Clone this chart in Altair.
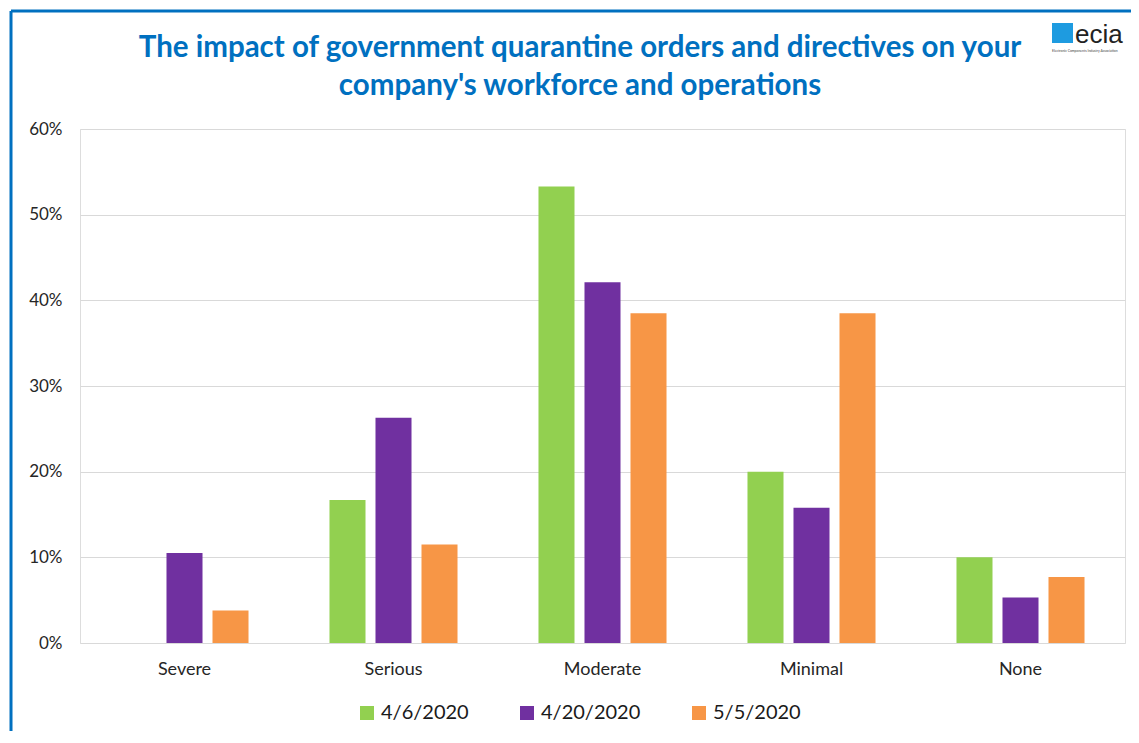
import altair as alt
import pandas as pd

categories = ["Severe", "Serious", "Moderate", "Minimal", "None"]
series = ["4/6/2020", "4/20/2020", "5/5/2020"]
v_0406 = [0.0, 0.167, 0.533, 0.200, 0.100]
v_0420 = [0.105, 0.263, 0.421, 0.158, 0.053]
v_0505 = [0.038, 0.115, 0.385, 0.385, 0.077]
colors = ["#92D050", "#7030A0", "#F79646"]
title_lines = ["The impact of government quarantine orders and directives on your",
               "company's workforce and operations"]

rows = []
for s, vals in zip(series, [v_0406, v_0420, v_0505]):
    for c, v in zip(categories, vals):
        rows.append({"cat": c, "series": s, "value": v})
df = pd.DataFrame(rows)

FONT = "Lato"
BLUE = "#0070C0"

bars = alt.Chart(df).mark_bar().encode(
    x=alt.X("cat:N", sort=categories, title=None,
            scale=alt.Scale(paddingInner=0, paddingOuter=0),
            axis=alt.Axis(labelAngle=0, ticks=False, domain=False, labelPadding=17,
                          labelFontSize=18, labelColor="#262626", labelFont=FONT)),
    xOffset=alt.XOffset("series:N", sort=series,
                        scale=alt.Scale(paddingInner=0.217, paddingOuter=0.88)),
    y=alt.Y("value:Q", title=None,
            scale=alt.Scale(domain=[0, 0.6], nice=False),
            axis=alt.Axis(format=".0%", values=[0, 0.1, 0.2, 0.3, 0.4, 0.5, 0.6],
                          ticks=False, domain=False, labelPadding=18, gridColor="#D9D9D9",
                          labelFontSize=17, labelColor="#262626", labelFont=FONT)),
    color=alt.Color("series:N", sort=series,
                    scale=alt.Scale(domain=series, range=colors),
                    legend=alt.Legend(title=None, orient="none", direction="horizontal",
                                      legendX=277, legendY=574, symbolType="square",
                                      symbolSize=196, symbolStrokeWidth=0,
                                      labelFontSize=20, labelFont=FONT, labelColor="#1A1A1A",
                                      columnPadding=48, labelOffset=4)),
)

deco = pd.DataFrame({"k": [0]})
left_border = alt.Chart(deco).mark_rule(color=BLUE, strokeWidth=3).encode(
    x=alt.value(-69), y=alt.value(-118), y2=alt.value(620))
top_border = alt.Chart(deco).mark_rule(color=BLUE, strokeWidth=3).encode(
    x=alt.value(-69), x2=alt.value(1070), y=alt.value(-118))
logo_icon = alt.Chart(deco).mark_rect(color="#1E9BE0").encode(
    x=alt.value(972), x2=alt.value(993), y=alt.value(-106), y2=alt.value(-86))
logo_text = alt.Chart(deco).mark_text(text="ecia", font="Liberation Sans", fontSize=26,
                                      color="#222222", align="left", baseline="alphabetic").encode(
    x=alt.value(995), y=alt.value(-86))
logo_sub = alt.Chart(deco).mark_text(text="Electronic Components Industry Association", font=FONT,
                                     fontSize=3.4, color="#444444", align="left", baseline="top").encode(
    x=alt.value(972), y=alt.value(-80))

title_df = pd.DataFrame({"line": title_lines, "ypos": [-81, -43]})
title = alt.Chart(title_df).mark_text(font=FONT, fontSize=29.5, fontWeight="bold", color=BLUE,
                                      align="center", baseline="middle").encode(
    text="line:N", x=alt.value(500), y=alt.Y("ypos:Q", scale=None))

chart = alt.layer(bars, left_border, top_border, logo_icon, logo_text, logo_sub, title).properties(
    width=1045, height=514,
    padding={"left": 72, "top": 121, "right": 6, "bottom": 88},
    autosize=alt.AutoSizeParams(type="none"),
).configure_view(stroke=None).configure(background="white")

chart.save("out.html", embed_options={"renderer": "svg", "actions": False})
